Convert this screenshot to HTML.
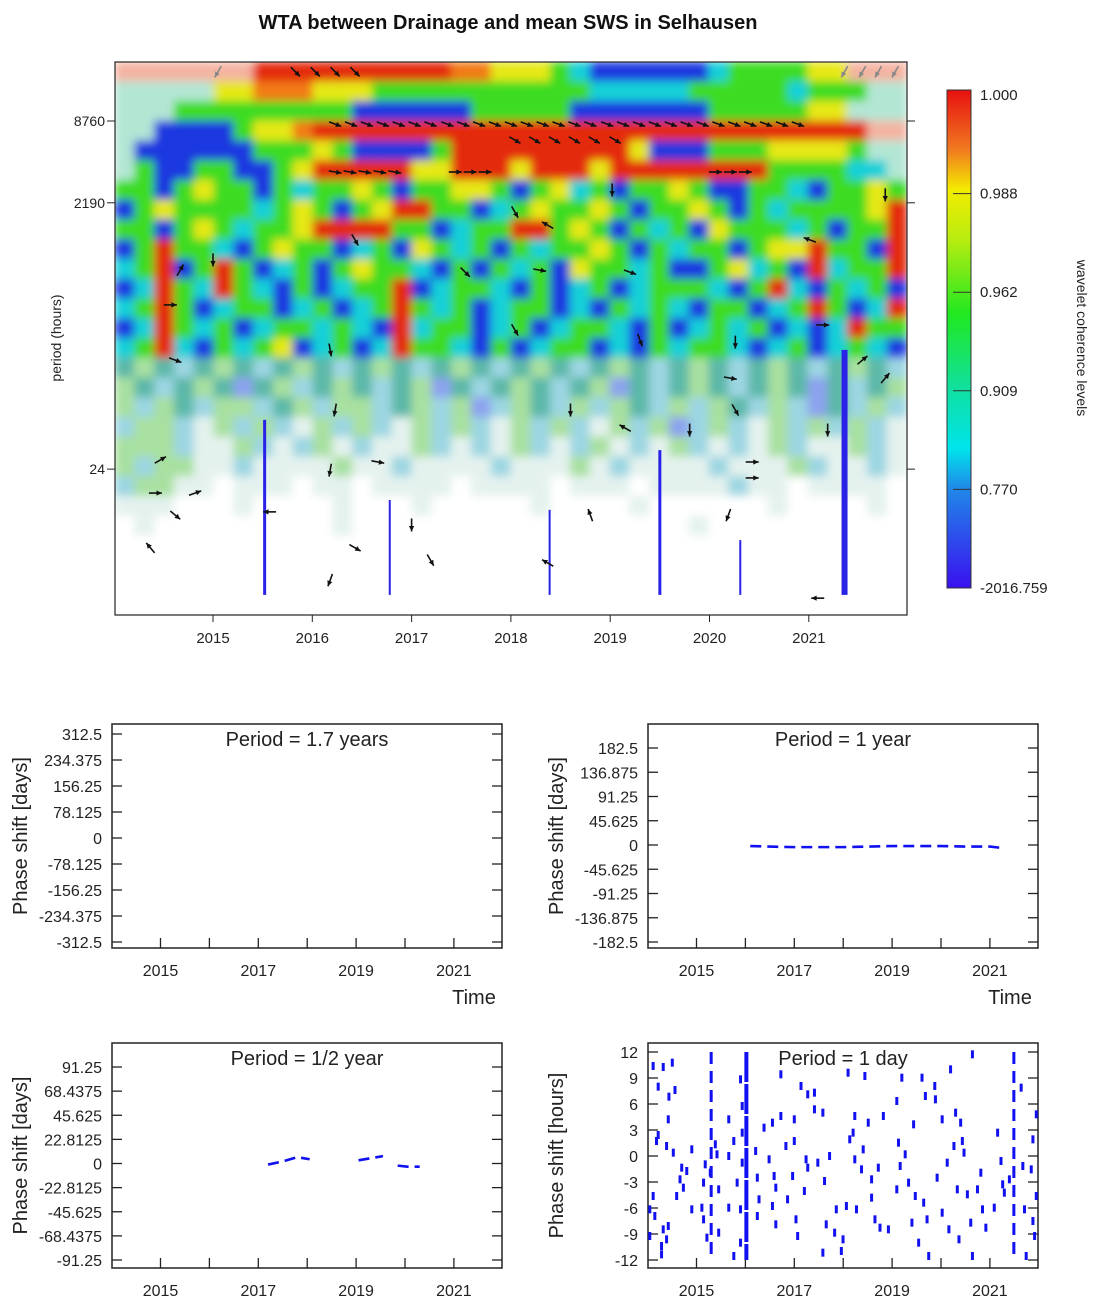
<!DOCTYPE html>
<html><head><meta charset="utf-8"><style>
html,body{margin:0;padding:0;background:#fff;}
svg{display:block;font-family:"Liberation Sans",Arial,sans-serif;}
</style></head><body>
<svg id="fig" width="1108" height="1306" viewBox="0 0 1108 1306" xmlns="http://www.w3.org/2000/svg">
<defs>
<clipPath id="hmclip"><rect x="115" y="62" width="792" height="553"/></clipPath>
<filter id="soft" x="-2%" y="-2%" width="104%" height="104%"><feGaussianBlur stdDeviation="4.5"/></filter>
<linearGradient id="cbgrad" x1="0" y1="0" x2="0" y2="1">
<stop offset="0" stop-color="#e81010"/><stop offset="0.12" stop-color="#f07a20"/><stop offset="0.2" stop-color="#f4ec00"/>
<stop offset="0.3" stop-color="#b8ec10"/><stop offset="0.45" stop-color="#20e820"/><stop offset="0.6" stop-color="#10e0a0"/>
<stop offset="0.72" stop-color="#00e4ec"/><stop offset="0.8" stop-color="#2088e8"/><stop offset="1" stop-color="#3a10f0"/>
</linearGradient>
</defs>
<text x="508" y="29" text-anchor="middle" font-size="20" font-weight="bold" fill="#111">WTA between Drainage and mean SWS in Selhausen</text>
<g id="hm"></g>
<g id="cb"></g>
<g id="p1"></g>
<g id="p2"></g>
<g id="p3"></g>
<g id="p4"></g>
</svg>
<script>
// ===== Heatmap data (coarse grid of coherence classes, rows top->bottom) =====
const hmRows = [
"PPPPPPPrrrrrrrrrrooyyygcbbbbbbcggggyyPPP",
"LLLLLyyoooyyygggggggggggcccccgggggcgggLL",
"LLLgggggggggbbbbbbgggggbbbbbbbgggggyyLLL",
"LLbbbbgyyorrrrrrrrrrrrrrrrrrrrrrrrrrrrPP",
"LbbbbbbgggygbbbbgrrrrrrrrrybbbgggyyyygLL",
"LgbbggbbgyrrrrryyrrryrrryrrrrrrrrggggccL",
"ggbgyggbgcggygbggyygbgycgbggygbbggcbggyg",
"bgyggggcgygbgyrrggbcgyggygbggygbgcggggyr",
"ggbgygcggyrrrrggbcggrrgygbgcgbygggcgbggr",
"bgrggcbgyggbcgbygcgbgcggygbgcggbgyyrggbr",
"cgrbgrgbcgbgyggcbgbgcgbyggcgbbgycgbrcggr",
"bcrgcrgcbgbcggrbcggcbgbcgbcgggcbgrcbgcgb",
"cgrgbcggbcgbcgrgcgbcggbcbgcgcbggbcgrgbcr",
"bcrgcgbcggcgcbrcggbcgbcggcbgbcgcgbcbcrgg",
"cgrcbgcgybcgbcrggcbgbcggbcbgcggcbcgbcgcb",
"mnmqmnmqmnmqmnmqmnmqmnmqmnmqmnmqmnmqmnmq",
"nmqmnmkmnqmnmqmnkmqmnmqmnkmqmnmqmnmkmqmn",
"nqnmqnnqmnqnnqmnqnkqnmqnqnmqnqnmqnqkmqnq",
"qnnqsnqnqsnqnqsnqnqsnqnqsnqnkqnqsnqnqnqs",
"nnnqssnqsqnsqssnqsqsnqsqnsqsnqsqsnqssnqs",
"nqnnssqssssnssqssssqsssnsqssssqsssnqssqs",
"qnnsswssswsswsssswsssswssswssssqsswssssw",
"ssswwwswwwwswwwswwwwwswwwwswwwwwwswwwwsw",
"wswwwwwwwwwswwwwwwwwwwwwwwwwwswwwwwwwwww",
"wwwwwwwwwwwwwwwwwwwwwwwwwwwwwwwwwwwwwwww",
"wwwwwwwwwwwwwwwwwwwwwwwwwwwwwwwwwwwwwwww",
"wwwwwwwwwwwwwwwwwwwwwwwwwwwwwwwwwwwwwwww",
"wwwwwwwwwwwwwwwwwwwwwwwwwwwwwwwwwwwwwwww"
];
const hmPalette = {r:"#e42a0c",o:"#f27a12",y:"#e6e818",g:"#3cdc22",c:"#18d0d8",b:"#1a38e0",
 P:"#f4b4a2",L:"#b4e6d4",m:"#5cb8a8",n:"#a8e0a0",q:"#9cd6e2",k:"#8ca2ee",s:"#e4f2ee",w:"#ffffff"};
// streaks of significant blue (year, log2 period top, log2 period bottom)
const streakYears = [2015.52, 2019.50, 2021.36, 2016.78, 2018.39, 2020.31];
const streakTop = [5.79, 5.05, 7.50, 3.83, 3.59, 2.85];
const streakBottom = [1.51, 1.51, 1.51, 1.51, 1.51, 1.51];
const streakWidth = [3, 3, 6, 2, 2, 2];
// phase arrows (year, log2 period, angle deg)
const arrowYears = [2016.23,2016.39,2016.55,2016.71,2016.87,2017.03,2017.19,2017.36,2017.52,2017.68,2017.84,2018.00,2018.16,2018.32,2018.48,2018.64,2018.80,2018.97,2019.13,2019.29,2019.45,2019.61,2019.77,2019.93,2020.09,2020.25,2020.41,2020.57,2020.73,2020.89,
 2015.83,2016.03,2016.23,2016.43, 2018.04,2018.24,2018.44,2018.64,2018.84,2019.05,
 2016.23,2016.38,2016.53,2016.68,2016.83,2017.44,2017.59,2017.74,2020.06,2020.21,2020.36,
 2014.67,2015.00,2014.57,2014.62,2014.47,2014.42,2014.62,2014.82,2014.37,2015.57,2016.18,2016.23,2016.18,2016.18,2016.66,2016.43,2017.00,2017.19,2017.54,2018.04,2018.29,2018.60,2019.15,2019.20,2019.30,2019.80,2020.26,2020.21,2020.26,2020.43,2020.43,2020.19,2021.14,2021.19,2021.54,2021.77,2021.09,2018.37,2018.80,2019.02,2021.77,2018.04,2018.37,2016.43,2021.01];
const arrowLogP = [13.02,13.02,13.02,13.02,13.02,13.02,13.02,13.02,13.02,13.02,13.02,13.02,13.02,13.02,13.02,13.02,13.02,13.02,13.02,13.02,13.02,13.02,13.02,13.02,13.02,13.02,13.02,13.02,13.02,13.02,
 14.30,14.30,14.30,14.30, 12.63,12.63,12.63,12.63,12.63,12.63,
 11.85,11.85,11.85,11.85,11.85,11.85,11.85,11.85,11.85,11.85,11.85,
 9.45,9.70,8.60,7.25,4.81,4.00,3.46,4.00,2.66,3.54,7.50,6.03,4.56,1.87,4.76,2.66,3.22,2.36,9.40,7.99,9.45,6.03,5.59,9.40,7.74,5.54,7.69,6.81,6.03,4.76,4.37,3.46,8.11,5.54,7.25,6.81,1.43,2.29,3.46,11.41,11.29,10.87,10.55,10.19,10.19];
const arrowAngles = [20,20,20,20,20,20,20,20,20,20,20,20,20,20,20,20,20,20,20,20,20,20,20,20,20,20,20,20,20,20,
 45,45,45,45, 30,30,30,30,30,30,
 10,10,10,10,10,0,0,0,0,0,0,
 -60,90,0,20,-30,0,40,-20,-130,180,80,100,100,110,10,30,90,60,45,60,10,90,-150,20,70,90,90,10,60,0,0,110,0,90,-40,-50,180,-150,-110,90,90,60,-150,60,200];
const grayArrowYears = [2015.05, 2021.36, 2021.54, 2021.70, 2021.87];
const grayArrowLogP = [14.30, 14.30, 14.30, 14.30, 14.30];
const heatYearTicks = [2015,2016,2017,2018,2019,2020,2021];
const periodTicks = [8760, 2190, 24];
// colorbar
const cbLabels = ["1.000","0.988","0.962","0.909","0.770","-2016.759"];

// ===== Phase panels data =====
const p2Years = [2016.1,2016.5,2017.0,2017.5,2018.0,2018.5,2019.0,2019.5,2020.0,2020.5,2021.0,2021.2];
const p2Vals  = [-2,-3,-4,-4,-4,-3,-2,-2,-2,-3,-3,-5];
const p3SegA_Years = [2017.2,2017.5,2017.8,2018.05];
const p3SegA_Vals  = [-1,2,6,4];
const p3SegB_Years = [2019.05,2019.3,2019.55];
const p3SegB_Vals  = [3,5,7];
const p3SegC_Years = [2019.85,2020.05,2020.3];
const p3SegC_Vals  = [-2,-3,-3];
const p4ZX = [40,70,97,55,87,105,85,55,50,80,100,125,140,120,130,110,40,30,45,70,85,30,80,65,65,155,155,185,195,190,190,200,210,225,230,235,235,265,265,265,280,290,280,300,305,305,305,300,300,345,350,355,350,370,385,395,400,405,395,405,420,420,435,460,455,440,460,465,470,480,500,495,490,500,520,520,545,530,550,555,545,565,580,585,600,605,620,615,625,640,635,640,645,660,665,670,680,690,690,700,710,715,725,740,765,765,770,775,780,790,800,810,815,820,830,840,845,850,855,860,878,880,885,900,900,915,920,925,935,940,945,950,955,960,965,975,985,990,990,1005,1015,1020,1030,1055,1065,1075,1080,1085,1100,1135,1140,1145,1150,1165,1170,1180,1180,1170,1175];
const p4ZY = [90,93,80,152,182,162,250,297,315,330,350,395,405,430,455,480,480,520,540,580,570,600,610,630,655,340,520,515,385,440,550,605,410,325,355,460,590,250,360,515,315,440,660,130,210,290,380,520,620,345,425,490,540,275,370,260,420,455,510,565,115,240,330,250,420,490,315,550,600,150,175,370,465,395,170,220,230,380,435,565,650,360,590,520,645,610,110,510,310,240,290,370,520,400,340,120,260,430,485,550,395,575,240,580,195,460,320,390,125,355,440,560,265,480,620,125,500,180,550,660,150,190,425,250,530,380,580,100,330,230,460,610,260,315,350,475,560,660,55,460,410,520,575,515,290,375,445,470,430,155,390,520,660,400,310,235,480,555,600];
const dashYears = [2015.30, 2016.02, 2021.49];
const dashTop = [12,12,12];
const dashBottom = [-12,-12,-12];

const NS="http://www.w3.org/2000/svg";
function mk(parent,tag,attrs,text){const e=document.createElementNS(NS,tag);for(const k in attrs)e.setAttribute(k,attrs[k]);if(text!==undefined)e.textContent=text;parent.appendChild(e);return e;}

// ===== Heatmap =====
const HX0=115,HX1=907,HY0=62,HY1=615;
const hx = yr => 213 + (yr-2015)*99.3;
const hy = lp => 121 - (lp - Math.log2(8760))*40.9;
const hm=document.getElementById('hm');
const cellG=mk(hm,'g',{'clip-path':'url(#hmclip)'});
const blurG=mk(cellG,'g',{filter:'url(#soft)'});
const nR=hmRows.length, nC=40, cw=(HX1-HX0)/nC, ch=(HY1-HY0)/nR;
hmRows.forEach((row,ri)=>{
  for(let ci=0;ci<nC;ci++){
    const code=row[ci]||'w';
    const r=mk(blurG,'rect',{x:HX0+ci*cw-0.5,y:HY0+ri*ch-0.5,width:cw+1,height:ch+1,fill:hmPalette[code]});
    
    
  }
});
streakYears.forEach((yr,i)=>{
  const t=hy(streakTop[i]), b=hy(streakBottom[i]);
  const s=mk(cellG,'rect',{x:hx(yr)-streakWidth[i]/2,y:t,width:streakWidth[i],height:b-t,fill:'#2a22e6'});
  
  
});
function arrow(g,x,y,ang,col){
  const a=ang*Math.PI/180,L=13;
  const x1=x-Math.cos(a)*L/2,y1=y-Math.sin(a)*L/2,x2=x+Math.cos(a)*L/2,y2=y+Math.sin(a)*L/2;
  const grp=mk(g,'g',{});
  mk(grp,'line',{x1:x1,y1:y1,x2:x2,y2:y2,stroke:col,'stroke-width':1.6});
  const h=6;
  mk(grp,'polygon',{points:`${x2},${y2} ${x2-Math.cos(a-0.45)*h},${y2-Math.sin(a-0.45)*h} ${x2-Math.cos(a+0.45)*h},${y2-Math.sin(a+0.45)*h}`,fill:col});
  return grp;
}
arrowYears.forEach((yr,i)=>{
  const g=arrow(cellG,hx(yr),hy(arrowLogP[i]),arrowAngles[i],'#111');
  
  
});
grayArrowYears.forEach((yr,i)=>{
  const g=arrow(cellG,hx(yr),hy(grayArrowLogP[i]),120,'#888');
  
  
});
mk(hm,'rect',{x:HX0,y:HY0,width:HX1-HX0,height:HY1-HY0,fill:'none',stroke:'#222','stroke-width':1.2});
heatYearTicks.forEach(yr=>{
  const x=hx(yr);
  mk(hm,'line',{x1:x,y1:HY1,x2:x,y2:HY1+7,stroke:'#222'});
  const t=mk(hm,'text',{x:x,y:HY1+28,'text-anchor':'middle','font-size':15,fill:'#222'},String(yr));
  
  
});
periodTicks.forEach(p=>{
  const y=hy(Math.log2(p));
  mk(hm,'line',{x1:HX0-8,y1:y,x2:HX0,y2:y,stroke:'#222'});
  mk(hm,'line',{x1:HX1,y1:y,x2:HX1+8,y2:y,stroke:'#222'});
  const t=mk(hm,'text',{x:HX0-10,y:y+5,'text-anchor':'end','font-size':14,fill:'#222'},String(p));
  
  
});
const yt=mk(hm,'text',{x:0,y:0,transform:'translate(61,338) rotate(-90)','text-anchor':'middle','font-size':14,fill:'#222'},'period (hours)');



// ===== Colorbar =====
const cb=document.getElementById('cb');
mk(cb,'rect',{x:947,y:90,width:24,height:498,fill:'url(#cbgrad)',stroke:'#333','stroke-width':1});
cbLabels.forEach((lab,i)=>{
  const y=95+i*98.6;
  if(i>0&&i<cbLabels.length-1) mk(cb,'line',{x1:953,y1:y,x2:971,y2:y,stroke:'#333'});
  const t=mk(cb,'text',{x:980,y:y+5,'font-size':15,fill:'#222'},lab);
  
  
});
const ct=mk(cb,'text',{x:0,y:0,transform:'translate(1077,338) rotate(90)','text-anchor':'middle','font-size':14,fill:'#222'},'wavelet coherence levels');



// ===== Panels =====
function panel(id,box,yTicks,yLabels,title,ylab,showTime){
  const g=document.getElementById(id);
  const [L,T,R,B]=box;
  const yTop=yTicks.top, yBot=yTicks.bot, vMax=yTicks.max;
  const sx=yr=>L+48.5+(yr-2015)*48.9;
  const sy=v=>(yTop+yBot)/2-(v/vMax)*(yBot-yTop)/2;
  mk(g,'rect',{x:L,y:T,width:R-L,height:B-T,fill:'#fff',stroke:'#222','stroke-width':1.5});
  yLabels.forEach(lab=>{
    const y=sy(parseFloat(lab));
    mk(g,'line',{x1:L,y1:y,x2:L+10,y2:y,stroke:'#222','stroke-width':1.3});
    mk(g,'line',{x1:R-10,y1:y,x2:R,y2:y,stroke:'#222','stroke-width':1.3});
    const t=mk(g,'text',{x:L-10,y:y+6,'text-anchor':'end','font-size':16,fill:'#222'},lab);
    
    
  });
  [2015,2016,2017,2018,2019,2020,2021].forEach(yr=>{
    const x=sx(yr);
    mk(g,'line',{x1:x,y1:B-10,x2:x,y2:B,stroke:'#222','stroke-width':1.3});
    if(yr%2===1){
      const t=mk(g,'text',{x:x,y:B+28,'text-anchor':'middle','font-size':16,fill:'#222'},String(yr));
      
      
    }
  });
  const tt=mk(g,'text',{x:(L+R)/2,y:T+22,'text-anchor':'middle','font-size':20,fill:'#222'},title);
  
  
  const yl=mk(g,'text',{x:0,y:0,transform:`translate(${L-85},${(T+B)/2}) rotate(-90)`,'text-anchor':'middle','font-size':20,fill:'#222'},ylab);
  
  
  if(showTime){
    const tm=mk(g,'text',{x:R-28,y:B+56,'text-anchor':'middle','font-size':20,fill:'#222'},'Time');
    
    
  }
  return {g,sx,sy};
}
function line(P,years,vals,name){
  const pts=years.map((y,i)=>P.sx(y)+','+P.sy(vals[i])).join(' ');
  const pl=mk(P.g,'polyline',{points:pts,fill:'none',stroke:'#1010f0','stroke-width':2.6,'stroke-dasharray':'11,6'});
  
  
}
const P1=panel('p1',[112,724,502,948],{top:734,bot:942,max:312.5},["312.5","234.375","156.25","78.125","0","-78.125","-156.25","-234.375","-312.5"],'Period = 1.7 years','Phase shift [days]',true);
const P2=panel('p2',[648,724,1038,948],{top:748,bot:942,max:182.5},["182.5","136.875","91.25","45.625","0","-45.625","-91.25","-136.875","-182.5"],'Period = 1 year','Phase shift [days]',true);
line(P2,p2Years,p2Vals,'phase-line-1-year');
const P3=panel('p3',[112,1043,502,1268],{top:1067,bot:1260,max:91.25},["91.25","68.4375","45.625","22.8125","0","-22.8125","-45.625","-68.4375","-91.25"],'Period = 1/2 year','Phase shift [days]',false);
line(P3,p3SegA_Years,p3SegA_Vals,'phase-line-half-year-a');
line(P3,p3SegB_Years,p3SegB_Vals,'phase-line-half-year-b');
line(P3,p3SegC_Years,p3SegC_Vals,'phase-line-half-year-c');
const P4=panel('p4',[648,1043,1038,1268],{top:1052,bot:1260,max:12},["12","9","6","3","0","-3","-6","-9","-12"],'Period = 1 day','Phase shift [hours]',false);
dashYears.forEach((yr,i)=>{
  const l=mk(P4.g,'line',{x1:P4.sx(yr),y1:P4.sy(dashTop[i]),x2:P4.sx(yr),y2:P4.sy(dashBottom[i]),stroke:'#1010f0','stroke-width':i===1?4:3,'stroke-dasharray':i===1?'30,2':'12,7'});
  
  
});
p4ZX.forEach((zx,i)=>{
  const yr=2015+(zx-169)/145.5, h=12-(p4ZY[i]-48)/26;
  const r=mk(P4.g,'rect',{x:P4.sx(yr)-1.5,y:P4.sy(h)-4,width:3,height:8,fill:'#1010f0'});
  
  
});
</script>
</body></html>
